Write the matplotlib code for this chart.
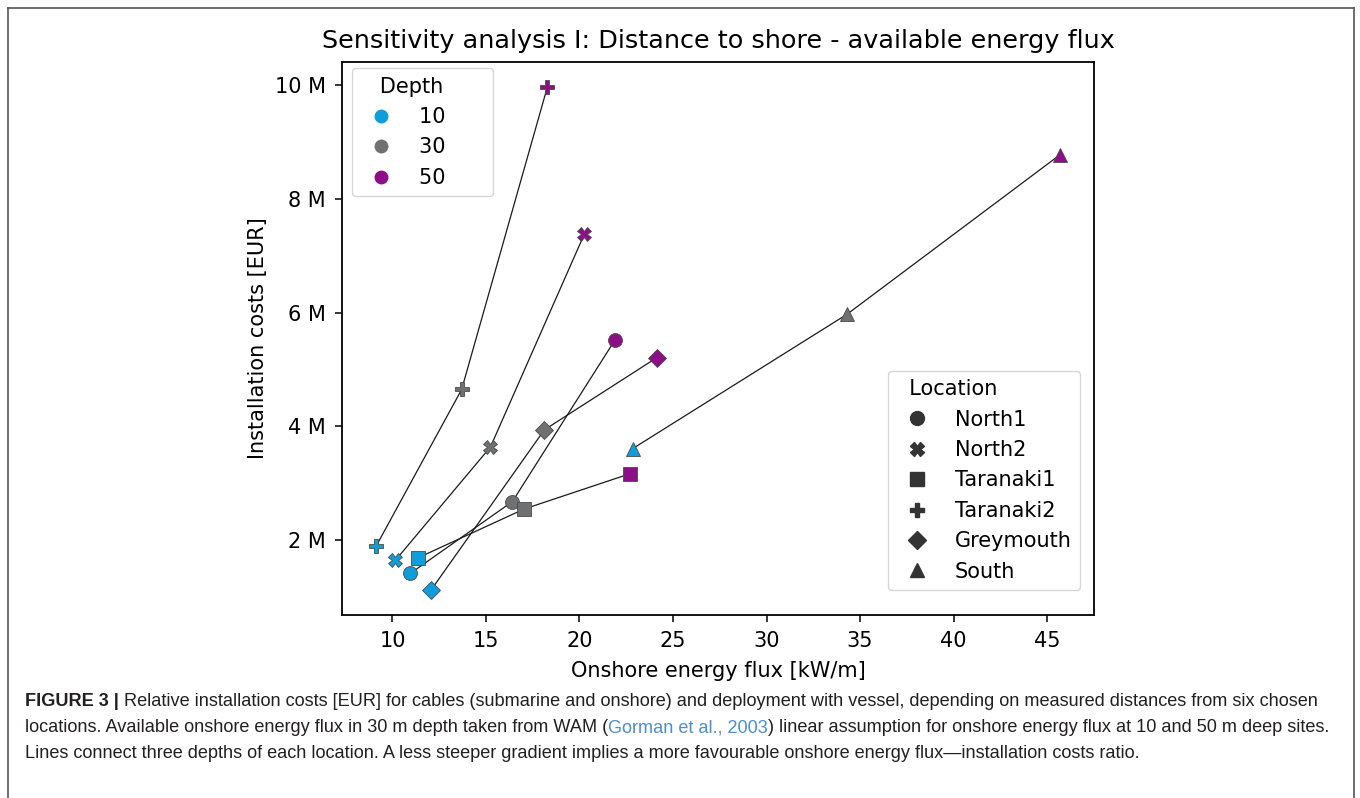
import numpy as np
import matplotlib.pyplot as plt
from matplotlib.lines import Line2D
from matplotlib.ticker import FuncFormatter, MultipleLocator

# data
locations = ["North1", "North2", "Taranaki1", "Taranaki2", "Greymouth", "South"]
depths = [10, 30, 50]
# onshore energy flux [kW/m] per location for depths 10, 30, 50
flux = {
    "North1":    [10.96, 16.41, 21.88],
    "North2":    [10.16, 15.24, 20.26],
    "Taranaki1": [11.35, 17.04, 22.70],
    "Taranaki2": [9.13, 13.70, 18.28],
    "Greymouth": [12.07, 18.12, 24.14],
    "South":     [22.84, 34.30, 45.68],
}
# installation costs [EUR] per location for depths 10, 30, 50
costs = {
    "North1":    [1.42e6, 2.68e6, 5.51e6],
    "North2":    [1.65e6, 3.64e6, 7.38e6],
    "Taranaki1": [1.69e6, 2.55e6, 3.17e6],
    "Taranaki2": [1.90e6, 4.65e6, 9.96e6],
    "Greymouth": [1.13e6, 3.94e6, 5.21e6],
    "South":     [3.61e6, 5.97e6, 8.77e6],
}

depth_colors = ["#0f9ddc", "#6e7071", "#8c0f87"]
markers = {"North1": "o", "North2": "X", "Taranaki1": "s",
           "Taranaki2": "P", "Greymouth": "D", "South": "^"}
msize = {"o": 10, "X": 10, "s": 10, "P": 10, "D": 9.5, "^": 10}

W, H = 1360, 798
fig = plt.figure(figsize=(W / 100, H / 100), dpi=100)
ax = fig.add_axes([342 / W, 1 - 615 / H, (1094 - 342) / W, (615 - 62) / H])

for loc in locations:
    ax.plot(flux[loc], costs[loc], color="#1a1a1a", lw=0.9, zorder=2)
    for i, d in enumerate(depths):
        ax.plot(flux[loc][i], costs[loc][i], linestyle="none",
                marker=markers[loc], markersize=msize[markers[loc]],
                markerfacecolor=depth_colors[i], markeredgecolor="#4a4a4a",
                markeredgewidth=0.6, zorder=3)

ax.margins(0.05)
ax.xaxis.set_major_locator(MultipleLocator(5))
ax.yaxis.set_major_locator(MultipleLocator(2e6))
ax.yaxis.set_major_formatter(FuncFormatter(lambda v, p: f"{v / 1e6:.0f} M"))
ax.tick_params(labelsize=15, length=5, width=1.1, pad=6.5)
for s in ax.spines.values():
    s.set_linewidth(1.3)

ax.set_xlabel("Onshore energy flux [kW/m]", fontsize=15, labelpad=7)
ax.set_ylabel("Installation costs [EUR]", fontsize=15, labelpad=5)
ax.set_title("Sensitivity analysis I: Distance to shore - available energy flux",
             fontsize=18.35, pad=10)

# legends
depth_handles = [Line2D([], [], linestyle="none", marker="o", markersize=10,
                        markerfacecolor=c, markeredgecolor="none")
                 for c in depth_colors]
leg1 = ax.legend(depth_handles, [f"{d}      " for d in depths], title="   Depth",
                 loc="upper left", bbox_to_anchor=(0.0133, 0.9886),
                 borderaxespad=0, fontsize=15, title_fontsize=15,
                 alignment="left")
ax.add_artist(leg1)

loc_handles = [Line2D([], [], linestyle="none", marker=markers[l],
                      markersize=msize[markers[l]], markerfacecolor="#333333",
                      markeredgecolor="#333333")
               for l in locations]
ax.legend(loc_handles, locations, title="  Location",
          loc="lower right", bbox_to_anchor=(0.9814, 0.0452),
          borderaxespad=0, fontsize=15, title_fontsize=15,
          alignment="left")

# outer frame
frame_kw = dict(color="#555555", lw=1.2, transform=fig.transFigure)
fig.add_artist(Line2D([8 / W, 8 / W], [0, 1 - 8 / H], **frame_kw))
fig.add_artist(Line2D([8 / W, 1354 / W], [1 - 8 / H, 1 - 8 / H], **frame_kw))
fig.add_artist(Line2D([1354 / W, 1354 / W], [0, 1 - 8 / H], **frame_kw))

# caption
cap_kw = dict(fontsize=13.1, family="Liberation Sans", color="#231f20",
              va="center", ha="left", transform=fig.transFigure)
renderer = fig.canvas.get_renderer()


def put_pieces(pieces, y_px, x_px=25):
    x = x_px
    for text, kw in pieces:
        t = fig.text(x / W, 1 - y_px / H, text, **{**cap_kw, **kw})
        x = t.get_window_extent(renderer).x1


put_pieces([("FIGURE 3 |", {"weight": "bold"}),
            (" Relative installation costs [EUR] for cables (submarine and onshore) "
             "and deployment with vessel, depending on measured distances from six chosen", {})],
           702)
put_pieces([("locations. Available onshore energy flux in 30 m depth taken from WAM (", {}),
            ("Gorman et al., 2003", {"color": "#4d8fc8"}),
            (") linear assumption for onshore energy flux at 10 and 50 m deep sites.", {})],
           728)
put_pieces([("Lines connect three depths of each location. A less steeper gradient implies "
             "a more favourable onshore energy flux\u2014installation costs ratio.", {})],
           754)

fig.savefig("out.png", dpi=100)
